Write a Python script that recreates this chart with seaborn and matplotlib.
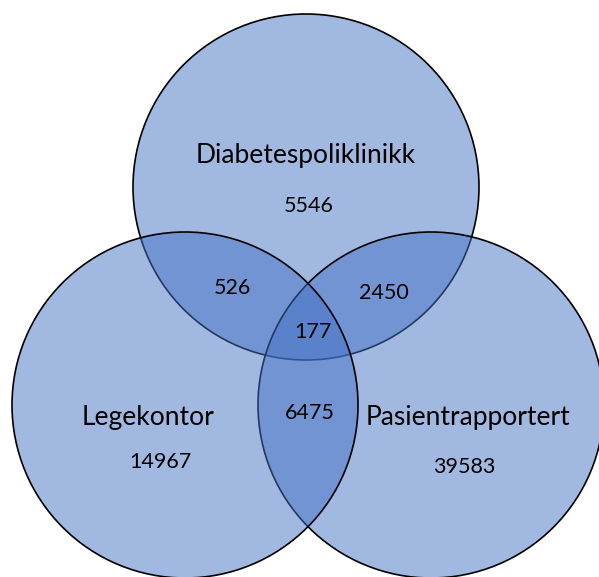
import matplotlib
matplotlib.use("Agg")
import matplotlib.pyplot as plt
import seaborn as sns
from matplotlib.patches import Circle

# set names and counts (only-in-one-set regions)
set_names = ["Diabetespoliklinikk", "Legekontor", "Pasientrapportert"]
only_counts = [5546, 14967, 39583]
# pairwise overlaps: Diab&Lege, Diab&Pasient, Lege&Pasient
pair_counts = [526, 2450, 6475]
all_three = 177

sns.set_theme(style="white")
plt.rcParams['font.family'] = ['Lato', 'DejaVu Sans']

W, H = 599, 577
dpi = 100
fig = plt.figure(figsize=(W / dpi, H / dpi), dpi=dpi)
ax = fig.add_axes([0, 0, 1, 1])
ax.set_xlim(0, W)
ax.set_ylim(H, 0)
ax.set_aspect("equal")
ax.axis("off")

blue = "#4472C4"
fill = matplotlib.colors.to_rgba(blue, 0.5)

# layout in pixel coords: top, left, right circle
r = 173
centres = {"Diabetespoliklinikk": (306, 187),
           "Legekontor": (185, 405),
           "Pasientrapportert": (431, 405)}
# draw order: top first, then right, then left
for name in ["Diabetespoliklinikk", "Pasientrapportert", "Legekontor"]:
    ax.add_patch(Circle(centres[name], r, facecolor=fill, edgecolor="black", lw=1.2))

# labels
label_pos = [(306, 155), (148, 418), (468, 418)]
count_pos = [(309, 206), (160, 462), (464, 467)]
for name, n, lp, cp in zip(set_names, only_counts, label_pos, count_pos):
    ax.text(*lp, name, ha="center", va="center", fontsize=19, color="black")
    ax.text(*cp, str(n), ha="center", va="center", fontsize=15.5, color="black")

pair_pos = [(232, 288), (384, 293), (310, 413)]
for n, p in zip(pair_counts, pair_pos):
    ax.text(*p, str(n), ha="center", va="center", fontsize=15.5, color="black")
ax.text(313, 332, str(all_three), ha="center", va="center", fontsize=15.5, color="black")

fig.savefig("out.png", dpi=dpi, facecolor="white")
